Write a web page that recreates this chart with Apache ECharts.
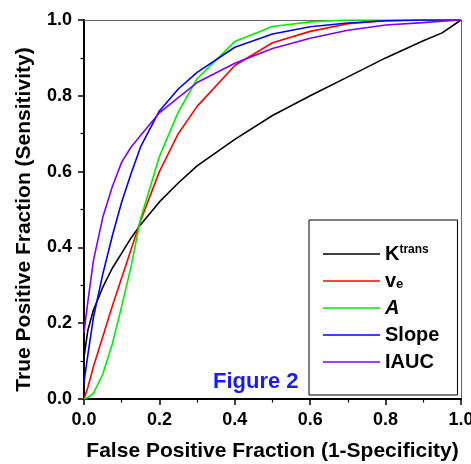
<!DOCTYPE html>
<html>
<head>
<meta charset="utf-8">
<script src="https://cdn.jsdelivr.net/npm/echarts@6/dist/echarts.min.js"></script>
<style>
html,body{margin:0;padding:0;background:#fff;}
#chart{width:471px;height:464px;}
</style>
</head>
<body>
<div id="chart"></div>
<script>
// False positive fraction sample points (shared by all curves)
const fpf = [0, 0.01, 0.025, 0.05, 0.075, 0.1, 0.125, 0.15, 0.2, 0.25, 0.3, 0.4, 0.5, 0.6, 0.7, 0.8, 0.9, 0.95, 1.0];
// True positive fraction per curve
const ktrans = [0.11, 0.18, 0.235, 0.295, 0.345, 0.385, 0.425, 0.46, 0.52, 0.57, 0.615, 0.685, 0.748, 0.80, 0.85, 0.90, 0.945, 0.966, 1.0];
const ve     = [0.0, 0.03, 0.085, 0.165, 0.245, 0.32, 0.395, 0.47, 0.60, 0.70, 0.772, 0.88, 0.94, 0.97, 0.99, 0.998, 1.0, 1.0, 1.0];
const aVals  = [0.0, 0.004, 0.015, 0.066, 0.145, 0.245, 0.35, 0.475, 0.64, 0.757, 0.845, 0.943, 0.983, 0.995, 1.0, 1.0, 1.0, 1.0, 1.0];
const slope  = [0.043, 0.115, 0.215, 0.33, 0.43, 0.52, 0.595, 0.665, 0.76, 0.818, 0.862, 0.928, 0.963, 0.982, 0.992, 0.998, 1.0, 1.0, 1.0];
const iauc   = [0.175, 0.255, 0.365, 0.48, 0.56, 0.625, 0.665, 0.695, 0.755, 0.795, 0.835, 0.886, 0.925, 0.952, 0.973, 0.987, 0.993, 0.997, 1.0];

const seriesNames = ['Ktrans', 've', 'A', 'Slope', 'IAUC'];
const seriesValues = [ktrans, ve, aVals, slope, iauc];
const seriesColors = ['#000000', '#ff0000', '#00ee00', '#0000ff', '#8000ff'];
const xTicks = ['0.0', '0.2', '0.4', '0.6', '0.8', '1.0'];

const FONT = "'Liberation Sans', Arial, Helvetica, sans-serif";

const chart = echarts.init(document.getElementById('chart'), null, {renderer: 'canvas'});

const series = seriesNames.map((n, i) => ({
  name: n,
  type: 'line',
  xAxisIndex: 0,
  yAxisIndex: 0,
  symbol: 'none',
  smooth: false,
  lineStyle: {color: seriesColors[i], width: 1.6},
  itemStyle: {color: seriesColors[i]},
  data: fpf.map((x, j) => [x, seriesValues[i][j]])
}));

const baseAxis = {
  type: 'value', min: 0, max: 1, interval: 0.2,
  splitLine: {show: false},
  axisLine: {show: true, onZero: false, lineStyle: {color: '#000', width: 2}},
  axisTick: {show: true, inside: false, length: 6, lineStyle: {color: '#000', width: 1.5}},
  minorTick: {show: true, splitNumber: 2, length: 3.5, lineStyle: {color: '#000', width: 1.2}},
  axisLabel: {
    color: '#000', fontSize: 18, fontWeight: 'bold', fontFamily: FONT, margin: 12,
    formatter: v => xTicks[Math.round(v / 0.2)]
  }
};

const frameAxis = {
  type: 'value', min: 0, max: 1, interval: 0.2,
  splitLine: {show: false},
  axisLine: {show: true, onZero: false, lineStyle: {color: '#666', width: 1}},
  axisTick: {show: false}, axisLabel: {show: false}
};

chart.setOption({
  animation: false,
  backgroundColor: '#fff',
  grid: {left: 84, right: 10, top: 20, bottom: 65, containLabel: false, outerBoundsMode: 'none'},
  title: {
    text: 'Figure 2', left: 213, top: 371, padding: 0,
    textStyle: {color: '#1a1aff', fontSize: 22, fontWeight: 'bold', fontFamily: FONT}
  },
  xAxis: [
    Object.assign({}, baseAxis, {
      position: 'bottom',
      name: 'False Positive Fraction (1-Specificity)',
      nameLocation: 'middle', nameGap: 42,
      nameTextStyle: {color: '#000', fontSize: 21, fontWeight: 'bold', fontFamily: FONT}
    }),
    Object.assign({}, frameAxis, {position: 'top'})
  ],
  yAxis: [
    Object.assign({}, baseAxis, {
      position: 'left',
      name: 'True Positive Fraction (Sensitivity)',
      nameLocation: 'middle', nameGap: 49,
      nameTextStyle: {color: '#000', fontSize: 21, fontWeight: 'bold', fontFamily: FONT, padding: [0, 20, 0, 0]}
    }),
    Object.assign({}, frameAxis, {position: 'right'})
  ],
  legend: {
    orient: 'vertical',
    left: 309, top: 220,
    padding: [24, 18, 23, 14],
    itemGap: 7,
    icon: 'rect',
    itemWidth: 57, itemHeight: 1.6,
    borderColor: '#000', borderWidth: 1, borderRadius: 0,
    backgroundColor: '#fff',
    selectedMode: false,
    data: seriesNames,
    formatter: function (name) {
      if (name === 'Ktrans') return '{m|K}{sup|trans}';
      if (name === 've') return '{m|v}{sub|e}';
      if (name === 'A') return '{it|A}';
      return '{m|' + name + '}';
    },
    textStyle: {
      color: '#000', fontSize: 20, fontWeight: 'bold', fontFamily: FONT, lineHeight: 20,
      rich: {
        m: {color: '#000', fontSize: 20, fontWeight: 'bold', fontFamily: FONT, lineHeight: 20},
        it: {color: '#000', fontSize: 20, fontWeight: 'bold', fontStyle: 'italic', fontFamily: FONT, lineHeight: 20},
        sup: {color: '#000', fontSize: 12, fontWeight: 'bold', fontFamily: FONT, lineHeight: 2, verticalAlign: 'top'},
        sub: {color: '#000', fontSize: 13, fontWeight: 'bold', fontFamily: FONT, lineHeight: 1, verticalAlign: 'bottom'}
      }
    }
  },
  series: series
});
</script>
</body>
</html>
